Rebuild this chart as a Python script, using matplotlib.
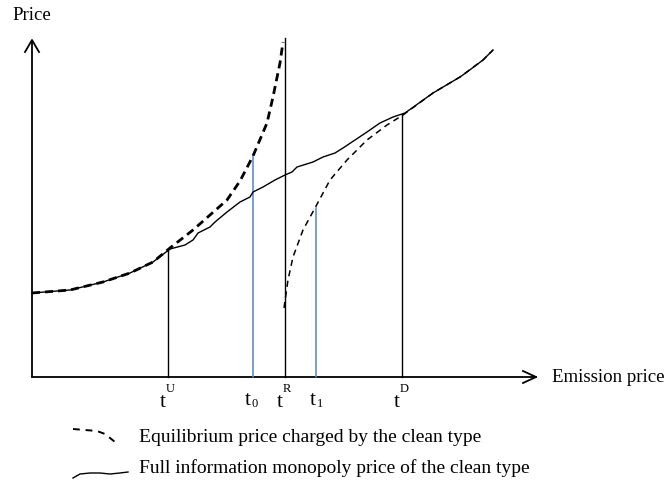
import matplotlib
matplotlib.use("Agg")
import matplotlib.pyplot as plt

# ---- data (chart units: x = emission price, y = price) ----
full_info_x = [0, 38, 71, 98, 121, 138, 153, 161, 166, 178, 183, 195, 208, 218, 221, 231, 243, 253,
               260, 265, 281, 291, 303, 311, 323, 335, 348, 361, 373, 401, 428, 435, 451, 461]
full_info_y = [84, 87, 95, 104, 115, 128, 132, 137, 144, 150, 155, 165, 175, 180, 185, 190, 197, 202,
               205, 210, 215, 220, 224, 229, 237, 245, 254, 260, 264, 284, 300, 305, 317, 327]

eq_low_x = [0, 38, 71, 98, 121, 138, 161, 178, 195, 208, 221, 235, 241, 248, 251]
eq_low_y = [84, 87, 95, 104, 115, 129, 147, 162, 177, 196, 221, 254, 280, 314, 335]

eq_high_x = [252, 256, 261, 271, 283, 298, 315, 335, 355, 371, 401, 428, 451, 461]
eq_high_y = [69, 97, 120, 147, 169, 197, 217, 237, 252, 262, 284, 300, 317, 327]

threshold_names = ["U", "0", "R", "1", "D"]
threshold_x = [136, 221, 253, 284, 370]
threshold_top = [127, 222, 339, 169, 263]
threshold_colors = ["black", "#5585c8", "black", "#5585c8", "black"]
threshold_script = ["sup", "sub", "sup", "sub", "sup"]

legend_labels = ["Equilibrium price charged by the clean type",
                 "Full information monopoly price of the clean type"]

SERIF = ["Liberation Serif", "DejaVu Serif"]

fig = plt.figure(figsize=(6.68, 4.8), dpi=100)
ax = fig.add_axes([0, 0, 1, 1])
ax.set_xlim(-32, 636)
ax.set_ylim(-103, 377)
ax.axis("off")

# axes with open arrow heads
ax.plot([0, 0], [0, 337], color="black", lw=1.3, solid_capstyle="butt")
ax.plot([-7, 0, 7], [325, 337, 325], color="black", lw=1.3)
ax.plot([0, 504], [0, 0], color="black", lw=1.3)
ax.plot([491, 504, 491], [6, 0, -6], color="black", lw=1.3)

# vertical threshold lines
for xv, top, c in zip(threshold_x, threshold_top, threshold_colors):
    ax.plot([xv, xv], [0, top], color=c, lw=1.1 if c != "black" else 1.0)

# curves
ax.plot(full_info_x, full_info_y, color="black", lw=1.0)
ax.plot(eq_low_x, eq_low_y, color="black", lw=2.0, dashes=(2.9, 1.8))
ax.plot(eq_high_x, eq_high_y, color="black", lw=1.1, dashes=(4.0, 3.0))

# tick labels t^U, t_0, ...
for name, xv, kind in zip(threshold_names, threshold_x, threshold_script):
    if kind == "sup":
        ax.text(xv - 8, -30, "t", fontsize=15.5, family=SERIF, va="baseline", ha="left")
        ax.text(xv - 2, -15, name, fontsize=9, family=SERIF, va="baseline", ha="left")
    else:
        dx = 2 if name == "1" else 0
        ax.text(xv - 8 + dx, -28, "t", fontsize=15.5, family=SERIF, va="baseline", ha="left")
        ax.text(xv - 1 + dx, -30, name, fontsize=9, family=SERIF, va="baseline", ha="left")

# axis titles
ax.text(-20, 362, "Price", fontsize=13.5, family=SERIF, va="center", ha="left")
ax.text(520, 0, "Emission price", fontsize=13.6, family=SERIF, va="center", ha="left")

# legend
ax.plot([41, 53, 65, 73, 83], [-52, -53, -54, -57, -65], color="black", lw=1.4, dashes=(3.5, 3))
ax.plot([41, 48, 58, 68, 78, 88, 96], [-101, -97, -96, -96, -97, -96, -95], color="black", lw=1.0)
ax.text(107, -60, legend_labels[0], fontsize=14, family=SERIF, va="center", ha="left")
ax.text(107, -91, legend_labels[1], fontsize=14, family=SERIF, va="center", ha="left")

fig.savefig("out.png", dpi=100)
